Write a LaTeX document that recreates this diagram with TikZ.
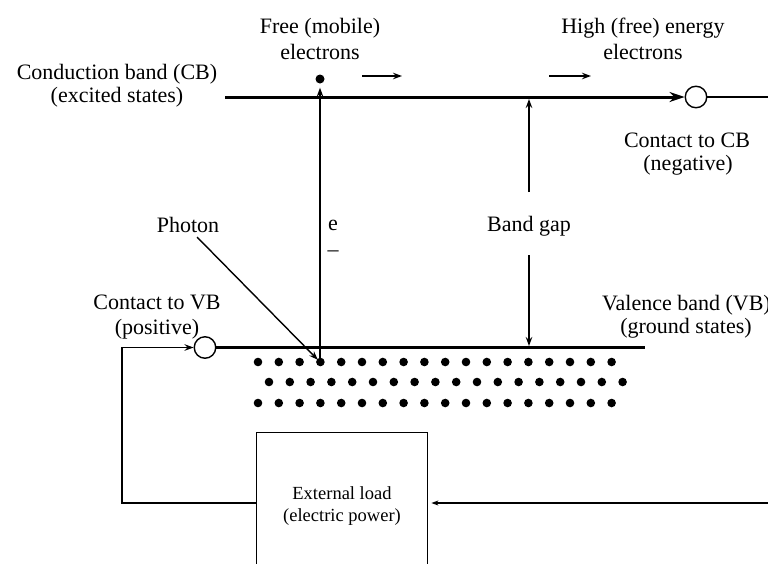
\documentclass[tikz,border=0pt]{standalone}
\usepackage{fontspec}
\setmainfont{Liberation Serif}
\usetikzlibrary{arrows.meta}
\begin{document}
\begin{tikzpicture}[x=1pt,y=-1pt,
  lbl/.style={anchor=base,inner sep=0pt,font=\fontsize{22}{26}\selectfont},
  boxlbl/.style={anchor=base,inner sep=0pt,font=\fontsize{18.5}{22}\selectfont},
  band/.style={line width=3pt},
  wire/.style={line width=1.4pt},
  tip/.style={-{Stealth[length=9pt,width=6.5pt]}},
  bigtip/.style={-{Stealth[length=15pt,width=10pt]}},
  smalltip/.style={-{Stealth[length=7pt,width=5pt]}},
  contact/.style={circle,draw,line width=1.4pt,minimum size=21.5pt,inner sep=0pt,fill=white},
  elec/.style={circle,fill=black,inner sep=0pt,minimum size=9pt}]
\useasboundingbox (0,0) rectangle (768,563);
\clip (0,0) rectangle (768,563);
\fill[white] (0,0) rectangle (768,563);

% labels
\node[lbl] (free1) at (320,33) {Free (mobile)};
\node[lbl] (free2) at (320,59) {electrons};
\node[lbl] (cb1) at (117,79) {Conduction band (CB)};
\node[lbl] (cb2) at (117,102) {(excited states)};
\node[lbl] (high1) at (643,33) {High (free) energy};
\node[lbl] (high2) at (643,59) {electrons};
\node[lbl] (ccb1) at (687,147) {Contact to CB};
\node[lbl] (ccb2) at (688,170) {(negative)};
\node[lbl] (photon) at (188,232) {Photon};
\node[lbl] (echar) at (333,230) {e};
\node[lbl] (minus) at (333,256) {–};
\node[lbl] (gap) at (529,231) {Band gap};
\node[lbl] (cvb1) at (157,309) {Contact to VB};
\node[lbl] (cvb2) at (157,334) {(positive)};
\node[lbl,anchor=base west] (vb1) at (602,310) {Valence band (VB)};
\node[lbl] (vb2) at (686,333) {(ground states)};

% conduction band
\coordinate (cbL) at (225,97);
\node[contact] (cbc) at (696,97) {};
\coordinate (cbR) at (770,97);
\draw[band,bigtip] (cbL) -- (cbc.west);
\draw[wire] (cbc.east) -- (cbR);

% valence band
\node[contact] (vbc) at (205,347.5) {};
\coordinate (vbR) at (645,347.5);
\draw[band] (vbc.east) -- (vbR);

% electrons in valence band
\foreach \i in {0,...,17} {
  \fill ({258+20.8*\i},362) circle (4.3pt);
  \fill ({269+20.8*\i},382) circle (4.3pt);
  \fill ({258+20.8*\i},403) circle (4.3pt);
}
\coordinate (exc) at (320,362);

% free electron and excitation
\node[elec] (free) at (320,79) {};
\draw[wire,tip,shorten >=4pt] (exc) -- (free.south);

% photon
\coordinate (ph0) at (197,237);
\draw[wire,tip,shorten >=3pt] (ph0) -- (exc);

% band gap arrows
\coordinate (gapU0) at (529,192);
\coordinate (gapU1) at (529,99);
\coordinate (gapD0) at (529,255);
\coordinate (gapD1) at (529,346);
\draw[wire,tip] (gapU0) -- (gapU1);
\draw[wire,tip] (gapD0) -- (gapD1);

% motion arrows
\coordinate (m1s) at (362,76);
\coordinate (m1e) at (402,76);
\coordinate (m2s) at (549,76);
\coordinate (m2e) at (591,76);
\draw[wire,tip] (m1s) -- (m1e);
\draw[wire,tip] (m2s) -- (m2e);

% external load
\node[draw,line width=1.4pt,minimum width=171pt,minimum height=150pt,anchor=north west,inner sep=0pt] (load) at (256,432) {};
\node[boxlbl] (load1) at (342,499) {External load};
\node[boxlbl] (load2) at (342,521) {(electric power)};

% circuit
\coordinate (lb) at (122,503);
\coordinate (lc) at (122,347.5);
\coordinate (rb) at (770,503);
\draw[wire,tip] (load.west |- lb) -- (lb) -- (lc) -- (vbc.west);
\draw[wire,smalltip] (rb) -- ([xshift=3pt]load.east |- rb);
\end{tikzpicture}
\end{document}
